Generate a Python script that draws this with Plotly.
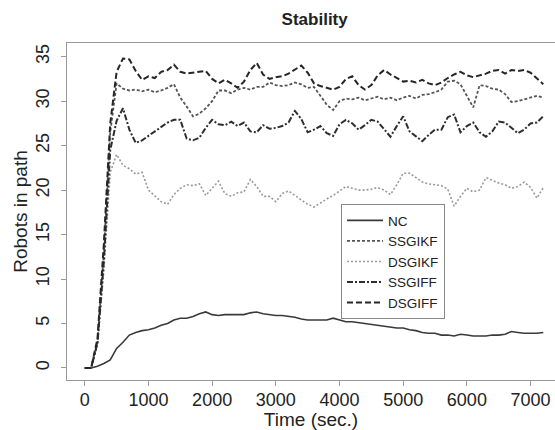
import plotly.graph_objects as go

time_sec = list(range(0, 7201, 100))

nc = [0, 0, 0.2, 0.5, 0.9, 2.2, 2.9, 3.7, 4.0, 4.2, 4.3, 4.5, 4.8, 5.0, 5.4, 5.6, 5.6, 5.8, 6.1, 6.3,
      6.0, 5.9, 6.0, 6.0, 6.0, 6.0, 6.2, 6.3, 6.1, 6.0, 5.9, 5.9, 5.8, 5.7, 5.5, 5.4, 5.4, 5.4, 5.4, 5.6,
      5.4, 5.2, 5.2, 5.1, 5.0, 4.9, 4.8, 4.7, 4.6, 4.5, 4.5, 4.3, 4.2, 4.0, 3.9, 3.9, 3.7, 3.7, 3.6, 3.8,
      3.7, 3.6, 3.6, 3.6, 3.7, 3.7, 3.8, 4.1, 4.0, 3.9, 3.9, 3.9, 4.0]

ssgikf = [0, 0, 3.0, 13, 26.5, 32.0, 31.4, 31.2, 31.3, 31.1, 31.3, 31.0, 31.2, 31.5, 31.9, 30.4, 29.4, 28.3, 28.6, 29.2,
          30.0, 31.2, 31.2, 30.9, 31.3, 31.5, 31.3, 31.6, 31.6, 32.1, 31.8, 31.7, 31.8, 32.1, 31.9, 31.5, 31.6, 30.6, 29.6, 29.0,
          30.0, 30.3, 30.2, 30.4, 30.1, 30.3, 30.5, 30.2, 30.4, 30.1, 30.4, 30.6, 30.3, 30.7, 30.8, 31.0, 31.3, 32.2, 32.3, 31.9,
          30.6, 29.3, 31.8, 31.7, 31.4, 31.3, 30.8, 29.9, 30.0, 30.2, 30.4, 30.6, 30.4]

dsgikf = [0, 0, 2.7, 11, 22, 24.0, 22.8, 22.4, 21.8, 22.0, 20.0, 19.3, 18.7, 18.4, 19.5, 20.2, 20.6, 20.5, 20.7, 19.4,
          20.2, 21.0, 19.6, 19.3, 19.7, 19.8, 21.2, 20.4, 19.3, 19.3, 18.7, 19.6, 19.9, 19.4, 19.0, 18.4, 18.1, 18.6, 19.0, 19.4,
          19.9, 20.4, 20.2, 20.0, 20.0, 20.1, 20.3, 20.0, 19.5, 20.6, 21.9, 21.9, 21.4, 20.9, 20.7, 20.6, 20.5, 20.1, 18.2, 19.3,
          20.2, 19.8, 20.0, 21.4, 21.1, 20.8, 20.6, 20.2, 20.4, 20.9, 20.3, 19.1, 20.3]

ssgiff = [0, 0, 2.8, 12, 24.5, 27.8, 29.2, 26.8, 25.3, 25.6, 26.1, 26.6, 27.2, 27.6, 27.9, 27.9, 25.8, 25.6, 25.9, 27.0,
          27.9, 27.4, 27.3, 27.7, 27.2, 27.6, 26.6, 26.5, 27.3, 26.9, 27.0, 27.2, 27.6, 28.9, 28.0, 26.5, 26.8, 27.2, 26.4, 26.1,
          27.4, 27.9, 27.5, 26.8, 27.3, 27.9, 27.7, 26.9, 26.0, 27.2, 28.3, 26.6, 26.0, 25.5, 26.2, 26.8, 26.8, 28.2, 28.5, 26.5,
          27.2, 27.6, 26.5, 26.0, 26.6, 27.7, 27.6, 27.0, 26.4, 26.8, 27.5, 27.6, 28.3]

dsgiff = [0, 0, 3.3, 14, 27.5, 33.3, 34.8, 34.7, 33.4, 32.4, 32.8, 32.6, 33.3, 33.5, 34.1, 33.3, 33.1, 33.2, 33.3, 33.4,
          32.5, 32.0, 32.4, 32.0, 31.5, 32.2, 33.5, 34.3, 33.0, 32.5, 32.7, 32.8, 33.1, 33.6, 34.0, 33.2, 32.0, 31.7, 31.5, 31.3,
          31.6, 32.5, 32.8, 31.8, 31.3, 31.8, 32.9, 33.5, 33.0, 32.6, 32.2, 32.3, 32.1, 32.4, 32.0, 31.8, 32.1, 32.6, 33.0, 33.3,
          32.9, 32.7, 32.9, 33.1, 33.4, 33.5, 33.1, 33.5, 33.4, 33.5, 33.2, 32.6, 31.9]

series_names = ["NC", "SSGIKF", "DSGIKF", "SSGIFF", "DSGIFF"]
series_values = [nc, ssgikf, dsgikf, ssgiff, dsgiff]
x_ticks = [0, 1000, 2000, 3000, 4000, 5000, 6000, 7000]
y_ticks = [0, 5, 10, 15, 20, 25, 30, 35]

styles = [
    dict(color="#3a3a3a", width=1.6, dash="solid"),
    dict(color="#555555", width=1.8, dash="3px,2px"),
    dict(color="#999999", width=1.6, dash="2px,2px"),
    dict(color="#2e2e2e", width=2.0, dash="6px,2px,2px,2px"),
    dict(color="#262626", width=2.0, dash="6px,3px"),
]

fig = go.Figure()
for name, vals, st in zip(series_names, series_values, styles):
    fig.add_trace(go.Scatter(x=time_sec, y=vals, mode="lines", name=name, line=st))

font_family = "Liberation Sans, Arial, Helvetica, sans-serif"

fig.update_layout(
    width=555, height=430,
    margin=dict(l=67, r=0, t=43, b=50),
    paper_bgcolor="white", plot_bgcolor="white",
    font=dict(family=font_family, color="#222", size=18),
    title=dict(text="<b>Stability</b>", x=0.567, xref="container", xanchor="center",
               y=0.955, yref="container", yanchor="middle",
               font=dict(size=17, family=font_family, color="#222")),
    showlegend=True,
    legend=dict(x=0.5615, y=0.522, xanchor="left", yanchor="top",
                bordercolor="#888", borderwidth=1, bgcolor="white",
                font=dict(size=13.5, family=font_family, color="#222"),
                itemwidth=36, tracegroupgap=0),
)
fig.update_xaxes(
    range=[-279, 7384], tickvals=x_ticks, ticktext=[str(v) for v in x_ticks],
    showgrid=False, zeroline=False, showline=True, mirror=True, linecolor="#999", linewidth=1,
    ticks="outside", ticklen=5, tickcolor="#999", automargin=False,
    ticklabelstandoff=-2,
    title=dict(text="Time (sec.)", font=dict(size=19), standoff=0),
    tickfont=dict(size=18),
)
fig.update_yaxes(
    range=[-1.35, 36.54], tickvals=y_ticks, ticktext=[str(v) for v in y_ticks],
    showgrid=False, zeroline=False, showline=True, mirror=False, linecolor="#999", linewidth=1,
    ticks="outside", ticklen=5, tickcolor="#999", tickangle=-90, automargin=False,
    ticklabelstandoff=5,
    title=dict(text="Robots in path", font=dict(size=19), standoff=0),
    tickfont=dict(size=18),
)

fig.write_html("out.html", config={"displayModeBar": False},
               post_script="document.body.style.margin='0';document.body.style.overflow='hidden';")
